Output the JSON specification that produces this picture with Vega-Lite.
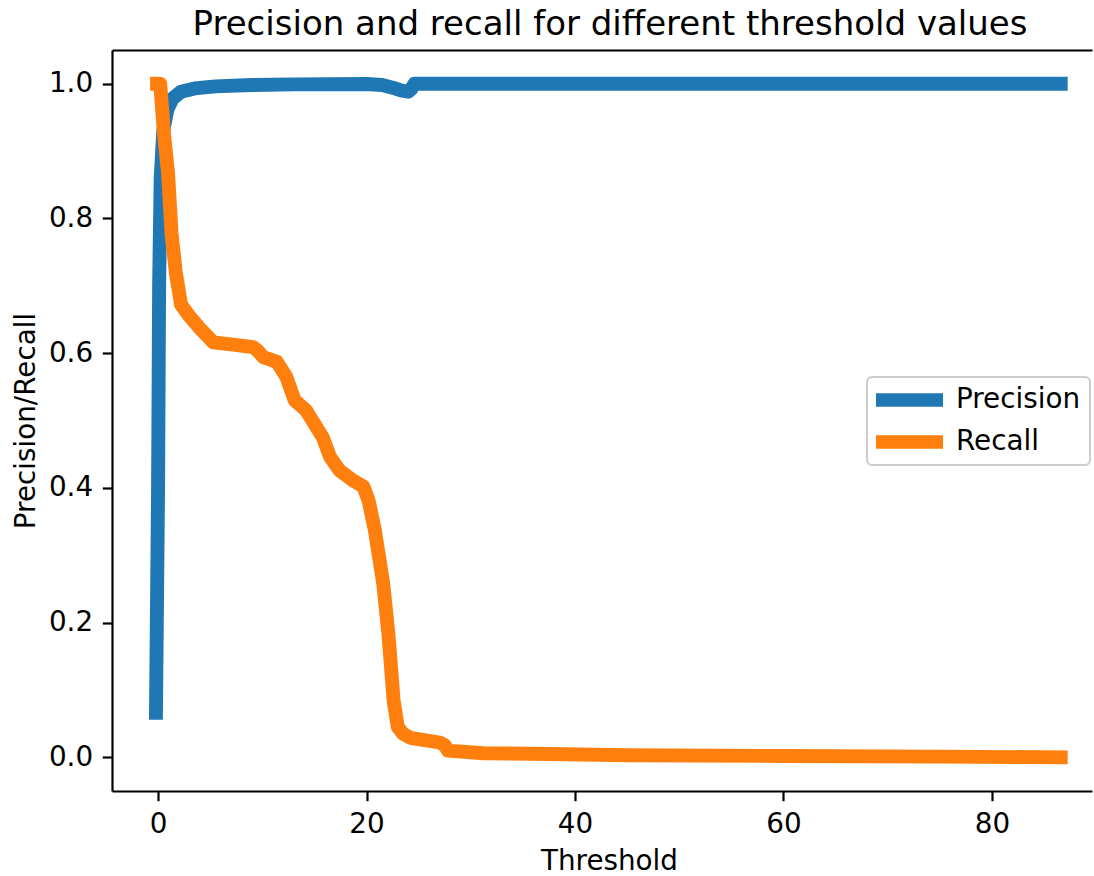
{
  "$schema": "https://vega.github.io/schema/vega-lite/v6.json",
  "width": 980,
  "height": 741,
  "autosize": {"type": "none"},
  "padding": {"left": 112, "top": 50, "right": 2, "bottom": 85},
  "background": "white",
  "title": {
    "text": "Precision and recall for different threshold values",
    "font": "DejaVu Sans",
    "fontSize": 34,
    "fontWeight": "normal",
    "color": "black",
    "anchor": "middle",
    "frame": "group",
    "baseline": "bottom",
    "offset": 10,
    "dy": 36,
    "dx": 8
  },
  "config": {
    "view": {"stroke": null},
    "axis": {
      "grid": false,
      "domainColor": "black",
      "domainWidth": 2.2,
      "tickColor": "black",
      "tickWidth": 2.2,
      "tickSize": 9.7,
      "labelPadding": 9.7,
      "labelFont": "DejaVu Sans",
      "labelFontSize": 27.8,
      "labelColor": "black",
      "titleFont": "DejaVu Sans",
      "titleFontSize": 27.8,
      "titleFontWeight": "normal",
      "titleColor": "black"
    }
  },
  "data": {
    "values": [
      {"threshold": -0.2, "value": 0.066, "series": "Precision"},
      {"threshold": 0.0, "value": 0.4, "series": "Precision"},
      {"threshold": 0.1, "value": 0.7, "series": "Precision"},
      {"threshold": 0.25, "value": 0.86, "series": "Precision"},
      {"threshold": 0.5, "value": 0.93, "series": "Precision"},
      {"threshold": 0.9, "value": 0.962, "series": "Precision"},
      {"threshold": 1.4, "value": 0.978, "series": "Precision"},
      {"threshold": 2.2, "value": 0.988, "series": "Precision"},
      {"threshold": 3.5, "value": 0.993, "series": "Precision"},
      {"threshold": 5.5, "value": 0.996, "series": "Precision"},
      {"threshold": 9, "value": 0.998, "series": "Precision"},
      {"threshold": 13, "value": 0.999, "series": "Precision"},
      {"threshold": 20, "value": 0.9995, "series": "Precision"},
      {"threshold": 21.5, "value": 0.998, "series": "Precision"},
      {"threshold": 22.5, "value": 0.994, "series": "Precision"},
      {"threshold": 23.3, "value": 0.99, "series": "Precision"},
      {"threshold": 24.0, "value": 0.988, "series": "Precision"},
      {"threshold": 24.3, "value": 0.992, "series": "Precision"},
      {"threshold": 24.6, "value": 1.0, "series": "Precision"},
      {"threshold": 40, "value": 1.0, "series": "Precision"},
      {"threshold": 60, "value": 1.0, "series": "Precision"},
      {"threshold": 86.6, "value": 1.0, "series": "Precision"},
      {"threshold": -0.1, "value": 1.0, "series": "Recall"},
      {"threshold": 0.2, "value": 1.0, "series": "Recall"},
      {"threshold": 0.35, "value": 0.97, "series": "Recall"},
      {"threshold": 0.6, "value": 0.92, "series": "Recall"},
      {"threshold": 0.96, "value": 0.867, "series": "Recall"},
      {"threshold": 1.29, "value": 0.778, "series": "Recall"},
      {"threshold": 1.7, "value": 0.72, "series": "Recall"},
      {"threshold": 2.2, "value": 0.672, "series": "Recall"},
      {"threshold": 3.0, "value": 0.655, "series": "Recall"},
      {"threshold": 4.0, "value": 0.637, "series": "Recall"},
      {"threshold": 5.3, "value": 0.616, "series": "Recall"},
      {"threshold": 7.0, "value": 0.613, "series": "Recall"},
      {"threshold": 9.1, "value": 0.609, "series": "Recall"},
      {"threshold": 9.6, "value": 0.603, "series": "Recall"},
      {"threshold": 10.1, "value": 0.594, "series": "Recall"},
      {"threshold": 11.4, "value": 0.587, "series": "Recall"},
      {"threshold": 12.3, "value": 0.565, "series": "Recall"},
      {"threshold": 13.1, "value": 0.53, "series": "Recall"},
      {"threshold": 14.2, "value": 0.515, "series": "Recall"},
      {"threshold": 15.0, "value": 0.495, "series": "Recall"},
      {"threshold": 15.8, "value": 0.475, "series": "Recall"},
      {"threshold": 16.5, "value": 0.446, "series": "Recall"},
      {"threshold": 17.4, "value": 0.426, "series": "Recall"},
      {"threshold": 18.7, "value": 0.411, "series": "Recall"},
      {"threshold": 19.7, "value": 0.402, "series": "Recall"},
      {"threshold": 20.2, "value": 0.381, "series": "Recall"},
      {"threshold": 20.8, "value": 0.337, "series": "Recall"},
      {"threshold": 21.6, "value": 0.258, "series": "Recall"},
      {"threshold": 22.1, "value": 0.183, "series": "Recall"},
      {"threshold": 22.6, "value": 0.084, "series": "Recall"},
      {"threshold": 23.0, "value": 0.045, "series": "Recall"},
      {"threshold": 23.5, "value": 0.035, "series": "Recall"},
      {"threshold": 24.2, "value": 0.029, "series": "Recall"},
      {"threshold": 27.0, "value": 0.022, "series": "Recall"},
      {"threshold": 27.5, "value": 0.018, "series": "Recall"},
      {"threshold": 27.8, "value": 0.01, "series": "Recall"},
      {"threshold": 31.2, "value": 0.006, "series": "Recall"},
      {"threshold": 37.6, "value": 0.005, "series": "Recall"},
      {"threshold": 45, "value": 0.003, "series": "Recall"},
      {"threshold": 60, "value": 0.002, "series": "Recall"},
      {"threshold": 75, "value": 0.001, "series": "Recall"},
      {"threshold": 86.6, "value": 0.0, "series": "Recall"}
    ]
  },
  "layer": [
    {
      "mark": {"type": "line", "strokeWidth": 13.9, "strokeCap": "square", "strokeJoin": "round", "clip": false},
      "encoding": {
        "x": {
          "field": "threshold",
          "type": "quantitative",
          "scale": {"domain": [-4.42, 89.6], "nice": false, "zero": false},
          "axis": {"orient": "bottom", "values": [0, 20, 40, 60, 80], "title": "Threshold", "titlePadding": 9, "titleX": 497}
        },
        "y": {
          "field": "value",
          "type": "quantitative",
          "scale": {"domain": [-0.05, 1.05], "nice": false, "zero": false},
          "axis": {"values": [0, 0.2, 0.4, 0.6, 0.8, 1.0], "format": ".1f", "title": "Precision/Recall", "titlePadding": 8}
        },
        "color": {
          "field": "series",
          "type": "nominal",
          "scale": {"domain": ["Precision", "Recall"], "range": ["#1f77b4", "#ff7f0e"]},
          "legend": {
            "title": null,
            "orient": "none",
            "legendX": 755,
            "legendY": 327,
            "padding": 9,
            "fillColor": "white",
            "strokeColor": "#cccccc",
            "cornerRadius": 5,
            "symbolType": "stroke",
            "symbolSize": 4900,
            "symbolStrokeWidth": 13.5,
            "symbolOffset": -10,
            "clipHeight": 28,
            "rowPadding": 14,
            "labelOffset": 6,
            "labelFont": "DejaVu Sans",
            "labelFontSize": 27.8,
            "labelColor": "black",
            "encode": {"legend": {"update": {"strokeWidth": {"value": 2}}}}
          }
        }
      }
    },
    {
      "mark": {"type": "line", "opacity": 0},
      "encoding": {
        "x": {
          "field": "threshold",
          "type": "quantitative",
          "axis": {"orient": "top", "labels": false, "ticks": false, "title": null}
        },
        "y": {"field": "value", "type": "quantitative"},
        "detail": {"field": "series"}
      }
    }
  ],
  "resolve": {"axis": {"x": "independent"}}
}
